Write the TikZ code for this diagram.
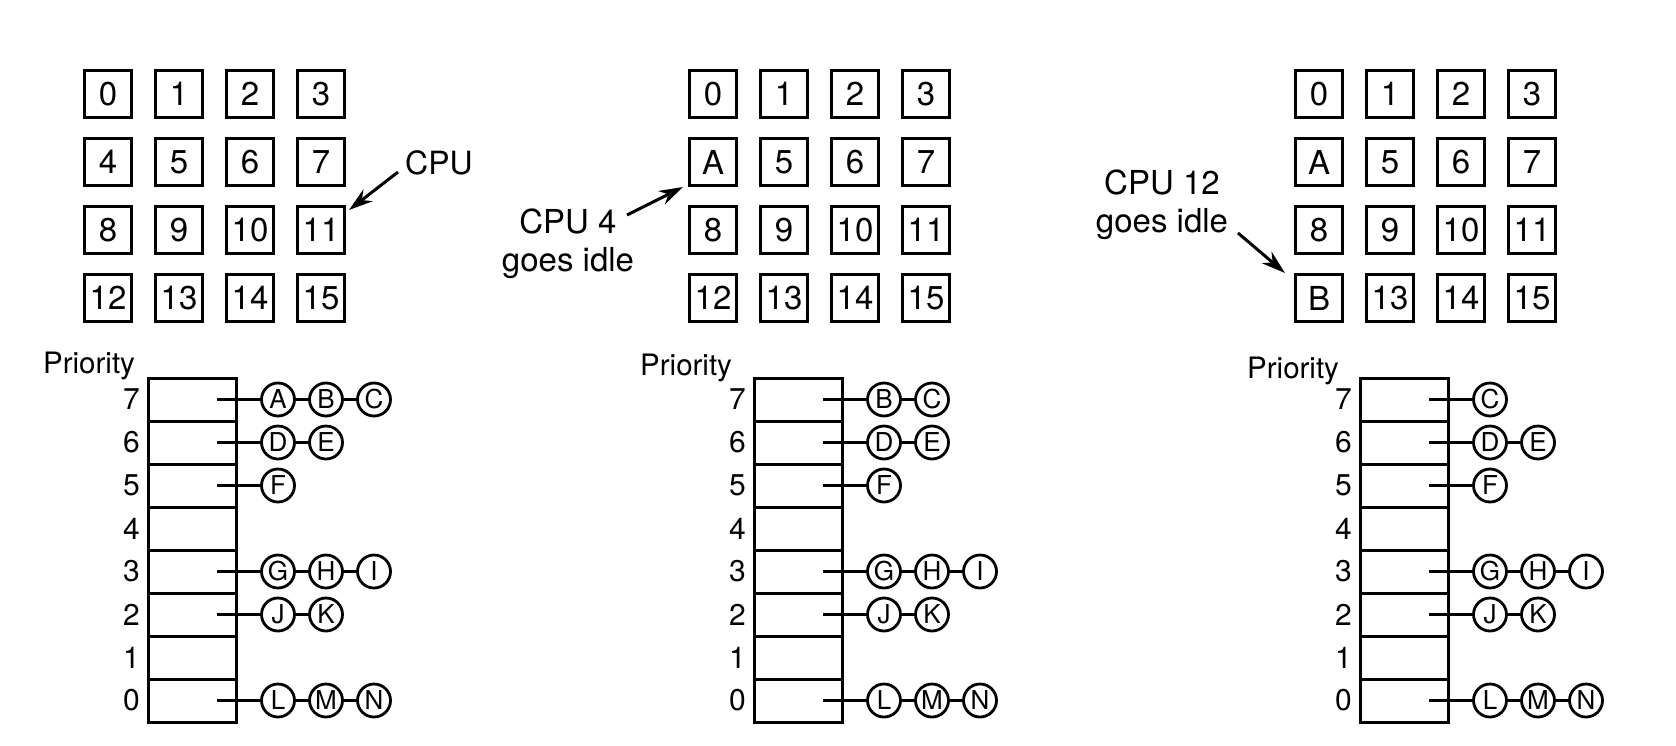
\documentclass[tikz,border=0pt]{standalone}
\usepackage{fontspec}
\setmainfont{TeX Gyre Heros}
\usetikzlibrary{arrows.meta}
\tikzset{
 cpubox/.style={draw, line width=3pt, minimum width=47pt, minimum height=47pt, inner sep=0pt, font=\fontsize{33}{33}\selectfont},
 cell/.style={draw, line width=3pt, minimum width=88pt, minimum height=43pt, inner sep=0pt},
 ball/.style={draw, circle, line width=2.8pt, minimum size=33pt, inner sep=0pt, font=\fontsize{26}{26}\selectfont},
 link/.style={line width=3pt},
 rownum/.style={anchor=east, inner sep=0pt, font=\fontsize{30}{30}\selectfont},
 prio/.style={anchor=base west, inner sep=0pt, font=\fontsize{29.5}{29.5}\selectfont},
 lbl/.style={inner sep=0pt, align=center, font=\fontsize{33}{38}\selectfont},
 arr/.style={line width=3pt, -{Stealth[length=24pt,width=15pt]}},
}
\newcommand\cpugrid[3]{%
  \foreach \l [count=\i from 0] in {#3} {
    \pgfmathtruncatemacro\col{mod(\i,4)}
    \pgfmathtruncatemacro\row{int(\i/4)}
    \node[cpubox] (g#1-\i) at ({#2+71*\col},{94+68*\row}) {\l};
  }%
}
\newcommand\prioqueue[2]{%
  \foreach \r in {0,...,7} {
    \node[cell] (q#1-\r) at (#2, {399.5+43*(7-\r)}) {};
    \node[rownum] (n#1-\r) at ([xshift=-7pt]q#1-\r.west) {\r};
  }%
}
\newcommand\pchain[3]{%
  \foreach \c [count=\k from 0, remember=\c as \prev (initially none)] in {#3} {
    \node[ball] (b#1-#2-\c) at ([xshift={(40+48*\k)*1pt}]q#1-#2.east) {\c};
    \ifnum\k=0
      \draw[link] ([xshift=-21pt]q#1-#2.east) -- (b#1-#2-\c);
    \else
      \draw[link] (b#1-#2-\prev) -- (b#1-#2-\c);
    \fi
  }%
}
\begin{document}
\begin{tikzpicture}[x=1pt,y=-1pt]
\fill[white] (0,0) rectangle (1676,745);
\useasboundingbox (0,0) rectangle (1676,745);
% CPU grids
\cpugrid{1}{108}{0,1,2,3,4,5,6,7,8,9,10,11,12,13,14,15}
\cpugrid{2}{713}{0,1,2,3,A,5,6,7,8,9,10,11,12,13,14,15}
\cpugrid{3}{1319}{0,1,2,3,A,5,6,7,8,9,10,11,B,13,14,15}
% labels and arrows
\node[inner sep=0pt, font=\fontsize{32}{32}\selectfont] (cpu) at (439,163) {CPU};
\draw[arr] ([shift={(-7,9)}]cpu.west) -- ([shift={(3,5)}]g1-11.north east);
\node[lbl] (idle4) at (568,244) {CPU 4\\goes idle};
\draw[arr] ([shift={(59,-29)}]idle4.center) -- ([shift={(-5,0)}]g2-4.south west);
\node[lbl] (idle12) at (1162,205) {CPU 12\\goes idle};
\draw[arr] ([shift={(76,28)}]idle12.center) -- ([shift={(-9,0)}]g3-12.north west);
% priority tables
\node[prio] (pr1) at (43,373) {Priority};
\node[prio] (pr2) at (640,375) {Priority};
\node[prio] (pr3) at (1247,378) {Priority};
\prioqueue{1}{192.5}
\prioqueue{2}{798.5}
\prioqueue{3}{1404.5}
% chains
\pchain{1}{7}{A,B,C}
\pchain{1}{6}{D,E}
\pchain{1}{5}{F}
\pchain{1}{3}{G,H,I}
\pchain{1}{2}{J,K}
\pchain{1}{0}{L,M,N}
\pchain{2}{7}{B,C}
\pchain{2}{6}{D,E}
\pchain{2}{5}{F}
\pchain{2}{3}{G,H,I}
\pchain{2}{2}{J,K}
\pchain{2}{0}{L,M,N}
\pchain{3}{7}{C}
\pchain{3}{6}{D,E}
\pchain{3}{5}{F}
\pchain{3}{3}{G,H,I}
\pchain{3}{2}{J,K}
\pchain{3}{0}{L,M,N}
\end{tikzpicture}
\end{document}
